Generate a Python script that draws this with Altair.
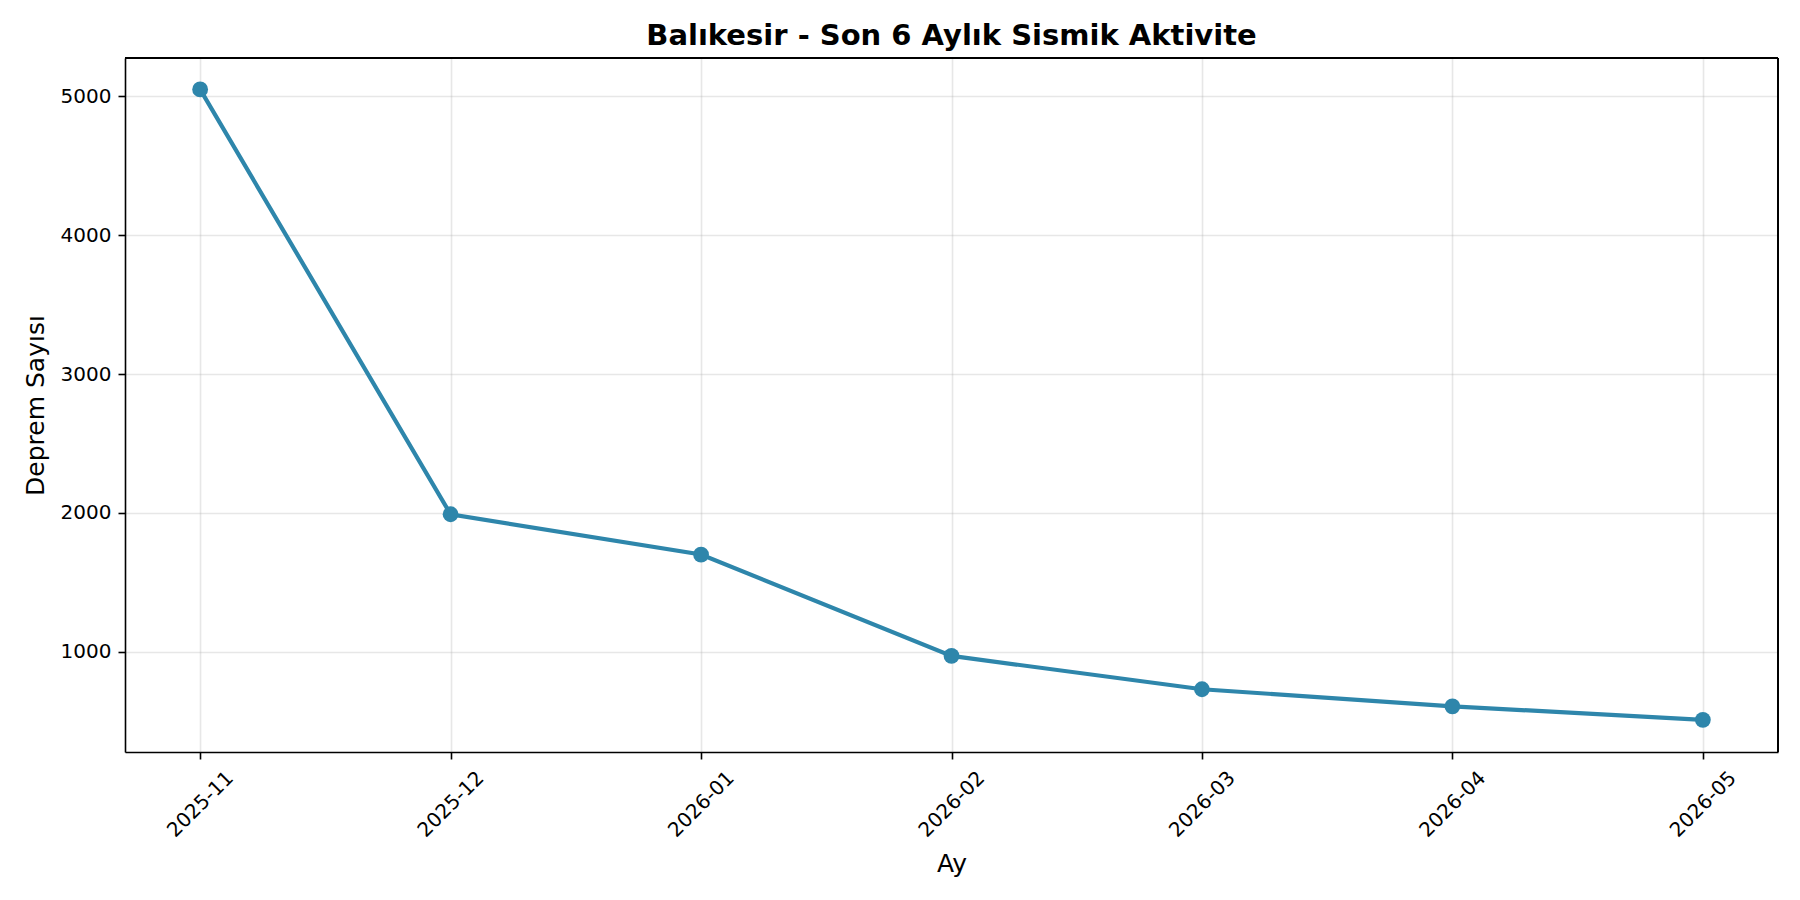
import altair as alt
import pandas as pd

months = ["2025-11", "2025-12", "2026-01", "2026-02", "2026-03", "2026-04", "2026-05"]
counts = [5050, 1990, 1700, 970, 730, 607, 510]

df = pd.DataFrame({"Ay": months, "Deprem Sayısı": counts})

FONT = "DejaVu Sans"
COLOR = "#2E86AB"
W, H = 1653, 694

base = alt.Chart(df).encode(
    x=alt.X(
        "Ay:O",
        sort=months,
        scale=alt.Scale(type="point", padding=0.3),
        axis=alt.Axis(
            title="Ay",
            labelAngle=315,
            labelAlign="center",
            labelBaseline="middle",
            labelPadding=45,
            labelFontSize=20,
            labelFont=FONT,
            labelColor="black",
            titleFontSize=25,
            titleFont=FONT,
            titleFontWeight="normal",
            titleColor="black",
            titlePadding=11,
            tickColor="black",
            tickSize=7,
            tickWidth=1.6,
            domainColor="black",
            domainWidth=1.6,
            grid=True,
            gridColor="#b0b0b0",
            gridOpacity=0.3,
            gridWidth=1.6,
        ),
    ),
    y=alt.Y(
        "Deprem Sayısı:Q",
        scale=alt.Scale(domain=[278, 5276], nice=False, zero=False),
        axis=alt.Axis(
            title="Deprem Sayısı",
            values=[1000, 2000, 3000, 4000, 5000],
            format="d",
            labelPadding=7,
            labelFontSize=20,
            labelFont=FONT,
            labelColor="black",
            titleFontSize=25,
            titleFont=FONT,
            titleFontWeight="normal",
            titleColor="black",
            titlePadding=12,
            tickColor="black",
            tickSize=7,
            tickWidth=1.6,
            domainColor="black",
            domainWidth=1.6,
            grid=True,
            gridColor="#b0b0b0",
            gridOpacity=0.3,
            gridWidth=1.6,
        ),
    ),
)

line = base.mark_line(color=COLOR, strokeWidth=4.2)
points = base.mark_circle(color=COLOR, size=250, opacity=1)

frame_top = alt.Chart(df).mark_rule(color="black", strokeWidth=1.6).encode(
    x=alt.value(0), x2=alt.value(W), y=alt.value(0)
)
frame_right = alt.Chart(df).mark_rule(color="black", strokeWidth=1.6).encode(
    x=alt.value(W), y=alt.value(0), y2=alt.value(H)
)

chart = (
    alt.layer(line, points, frame_top, frame_right)
    .properties(
        width=W,
        height=H,
        padding={"left": 117, "top": 50, "right": 14, "bottom": 140},
        autosize=alt.AutoSizeParams(type="none"),
        title=alt.TitleParams(
            "Balıkesir - Son 6 Aylık Sismik Aktivite",
            font=FONT,
            fontSize=29,
            fontWeight="bold",
            color="black",
            anchor="middle",
            frame="group",
            offset=6,
        ),
    )
    .configure_view(stroke="black", strokeWidth=1.6)
    .configure(background="white")
)

chart.save("out.html", embed_options={"renderer": "svg", "actions": False})
